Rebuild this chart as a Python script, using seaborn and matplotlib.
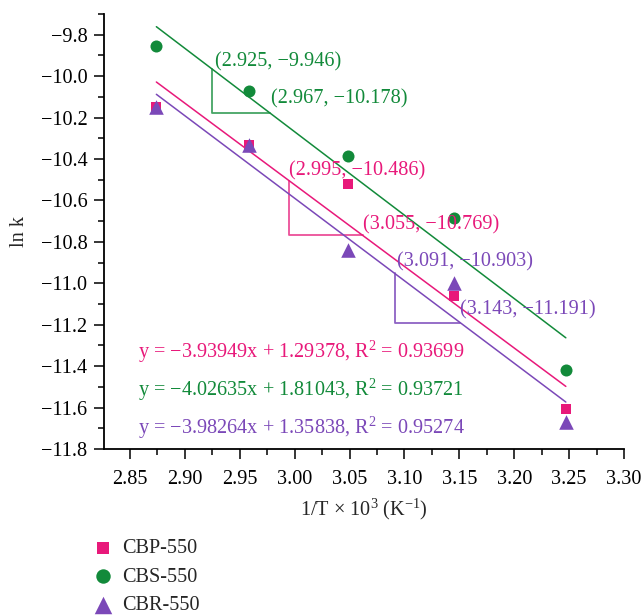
import numpy as np
import pandas as pd
import matplotlib
matplotlib.use("Agg")
import matplotlib.pyplot as plt
import seaborn as sns

# Reciprocal temperature (1/T x 10^3, K^-1) and ln k for each sample
inv_T = [2.874, 2.958, 3.049, 3.145, 3.247]
samples = ["CBP-550", "CBS-550", "CBR-550"]
ln_k_cbp = [-10.151, -10.334, -10.522, -11.062, -11.606]
ln_k_cbs = [-9.856, -10.073, -10.387, -10.686, -11.418]
ln_k_cbr = [-10.150, -10.333, -10.838, -10.998, -11.668]

# Linear fit parameters: slope, intercept, R^2
slopes = [-3.93949, -4.02635, -3.98264]
intercepts = [1.29378, 1.81043, 1.35838]
r_squared = [0.93699, 0.93721, 0.95274]

# Slope-triangle corner points per sample: (x1, y1), (x2, y2)
tri_p1 = [(2.995, -10.486), (2.925, -9.946), (3.091, -10.903)]
tri_p2 = [(3.055, -10.769), (2.967, -10.178), (3.143, -11.191)]

colors = {"CBP-550": "#E8197A", "CBS-550": "#128A3A", "CBR-550": "#7B48B8"}
tri_colors = {"CBP-550": "#EC4F98", "CBS-550": "#45A565", "CBR-550": "#8E62C4"}
markers = {"CBP-550": "s", "CBS-550": "o", "CBR-550": "^"}
sizes = {"CBP-550": 60, "CBS-550": 75, "CBR-550": 110}

df = pd.DataFrame({
    "x": inv_T * 3,
    "ln_k": ln_k_cbp + ln_k_cbs + ln_k_cbr,
    "sample": [s for s in samples for _ in inv_T],
})

sns.set_theme(style="ticks")
plt.rcParams["font.family"] = ["Liberation Serif", "DejaVu Serif"]
plt.rcParams["mathtext.fontset"] = "custom"
plt.rcParams["mathtext.rm"] = "Liberation Serif"
plt.rcParams["mathtext.it"] = "Liberation Serif:italic"
plt.rcParams["axes.unicode_minus"] = True

fig = plt.figure(figsize=(6.43, 6.16), dpi=100)
ax = fig.add_axes([104 / 643, 1 - 449 / 616, 520 / 643, 435 / 616])

fs = 14.6

# Fitted lines
x_fit = np.array([min(inv_T), max(inv_T)])
for s, m, b in zip(samples, slopes, intercepts):
    ax.plot(x_fit, m * x_fit + b, color=colors[s], lw=1.1, zorder=2)

# Measured points
for s in samples:
    sub = df[df["sample"] == s]
    sns.scatterplot(data=sub, x="x", y="ln_k", marker=markers[s], color=colors[s],
                    s=sizes[s], linewidth=0, label=s, ax=ax, zorder=3)

# Slope triangles and their corner labels
label_off = {
    "CBP-550": [(0.0, 0.031), (0.009, 0.05)],
    "CBS-550": [(0.002, 0.017), (0.010, 0.066)],
    "CBR-550": [(0.002, 0.006), (0.009, 0.063)],
}
for s, m, b, p1, p2 in zip(samples, slopes, intercepts, tri_p1, tri_p2):
    x1 = p1[0]
    y2 = p2[1]
    y_top = m * x1 + b
    x_end = (y2 - b) / m
    ax.plot([x1, x1, x_end], [y_top, y2, y2], color=tri_colors[s], lw=1.3, zorder=1)
    (dx1, dy1), (dx2, dy2) = label_off[s]
    ax.text(p1[0] + dx1, p1[1] + dy1, f"({p1[0]:.3f}, \u2212{abs(p1[1]):.3f})",
            color=colors[s], fontsize=fs, ha="left", va="center")
    ax.text(x_end + dx2 - 0.009, p2[1] + dy2, f"({p2[0]:.3f}, \u2212{abs(p2[1]):.3f})",
            color=colors[s], fontsize=fs, ha="left", va="center")

# Fit equations
eq_y = [-11.331, -11.514, -11.697]
for s, m, b, r2, yy in zip(samples, slopes, intercepts, r_squared, eq_y):
    ax.text(2.857, yy,
            f"y = \u2212{abs(m):.5f}x + {b:.5f}, R$^{{\\mathrm{{2}}}}$ = {r2:.5f}",
            color=colors[s], fontsize=fs, ha="left", va="center")

ax.set_xlim(2.8263, 3.30)
ax.set_ylim(-11.8, -9.7)
ax.set_xticks(np.arange(2.85, 3.301, 0.05))
ax.set_xticks(np.arange(2.875, 3.30, 0.05), minor=True)
ax.set_yticks(np.arange(-11.8, -9.79, 0.2))
ax.set_yticks(np.arange(-11.7, -9.69, 0.2), minor=True)
ax.set_xticklabels([f"{v:.2f}" for v in np.arange(2.85, 3.301, 0.05)])
ax.set_yticklabels([f"\u2212{abs(v):.1f}" for v in np.arange(-11.8, -9.79, 0.2)])
ax.tick_params(axis="both", which="major", labelsize=fs, length=7, width=1.1, pad=5,
               direction="out", color="black", labelcolor="black")
ax.tick_params(axis="x", which="major", pad=8)
ax.tick_params(axis="both", which="minor", length=4, width=1.1, direction="out", color="black")
for side in ["top", "right"]:
    ax.spines[side].set_visible(False)
for side in ["left", "bottom"]:
    ax.spines[side].set_linewidth(1.3)
    ax.spines[side].set_color("black")

ax.set_xlabel(r"1/T $\times$ 10$^{\mathrm{3}}$ (K$^{\mathrm{-1}}$)", fontsize=fs, labelpad=6)
ax.set_ylabel("ln k", fontsize=fs, labelpad=8)

handles, labels = ax.get_legend_handles_labels()
ax.get_legend().remove()
fig.legend(handles, labels, loc="center left", bbox_to_anchor=(83 / 643, 1 - 577 / 616),
           frameon=False, fontsize=fs, handletextpad=0.35, labelspacing=0.45,
           borderaxespad=0, handlelength=1.2, markerscale=1.2)

fig.savefig("out.png", dpi=100)
